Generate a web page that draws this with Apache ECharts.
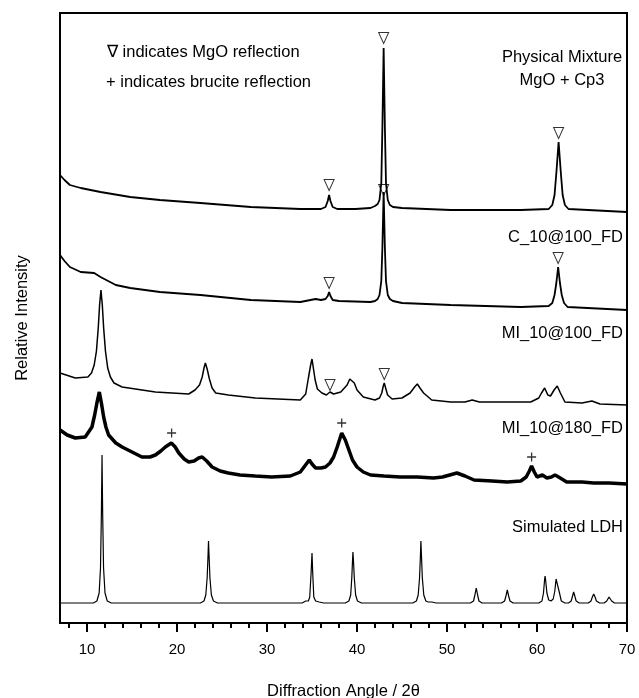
<!DOCTYPE html>
<html>
<head>
<meta charset="utf-8">
<script src="https://cdn.jsdelivr.net/npm/echarts/dist/echarts.min.js"></script>
<style>html,body{margin:0;padding:0;background:#fff;}#c{width:639px;height:698px;}</style>
</head>
<body>
<div id="c"></div>
<script>
// x tick labels
var majorTicks = [10, 20, 30, 40, 50, 60, 70];
var minorTicks = [8, 12, 14, 16, 18, 22, 24, 26, 28, 32, 34, 36, 38, 42, 44, 46, 48, 52, 54, 56, 58, 62, 64, 66, 68];

// Pattern labels
var patternNames = ['Physical Mixture\nMgO + Cp3', 'C_10@100_FD', 'MI_10@100_FD', 'MI_10@180_FD', 'Simulated LDH'];

// Physical Mixture (stacked intensity, arbitrary units)
var pmData = [[7,448],[7.5,443],[8.1,438],[9.3,435],[11.5,431],[14.8,426],[18.1,423],[22.6,420],[28.2,416],[33.7,414],[36,414],[36.5,416],[36.75,422],[36.9,428],[37.05,422],[37.3,416],[37.8,414],[39.8,414],[41.5,415],[42,417],[42.3,419],[42.5,423],[42.7,440],[42.82,495],[42.96,575],[43.1,495],[43.22,440],[43.42,423],[43.65,418],[44,416],[45,415],[50.4,413],[58.2,413],[61.3,414],[61.7,418],[61.95,428],[62.15,450],[62.4,481],[62.65,450],[62.85,428],[63.1,418],[63.5,414],[70,411]];

// C_10@100_FD
var c10Data = [[7,368],[7.5,362],[8.1,356],[9.3,351],[10.8,350],[11.5,346],[13.2,338],[14.8,335],[18.1,331],[22.6,328],[28.2,323],[33.7,321],[35.4,324],[36,323],[36.5,324],[36.75,327],[36.9,331],[37.05,327],[37.3,323],[38,322],[41.5,321],[42,322],[42.3,324],[42.5,328],[42.7,342],[42.82,375],[42.96,431],[43.1,375],[43.22,342],[43.42,328],[43.65,324],[44,322],[45,320],[50.4,318],[58.2,316],[61.3,317],[61.7,320],[61.95,328],[62.15,340],[62.35,356],[62.55,340],[62.75,328],[63,320],[63.4,316],[70,313]];

// MI_10@100_FD
var mi100Data = [[7,250],[8.7,245],[10.1,246],[10.5,250],[10.8,258],[11.05,272],[11.25,295],[11.4,318],[11.55,333],[11.7,318],[11.85,295],[12.05,272],[12.3,255],[12.6,246],[13,240],[13.9,236],[17.6,231],[21.3,229],[22,233],[22.5,238],[22.8,246],[23,255],[23.15,260],[23.35,254],[23.6,244],[23.9,235],[24.3,230],[25.7,228],[28.7,225],[33.7,223],[34.3,229],[34.6,245],[34.85,258],[35,264],[35.15,255],[35.35,243],[35.6,234],[36.1,230],[36.6,228],[37,231],[37.4,229],[38.2,231],[38.9,238],[39.2,244],[39.4,246],[39.7,240],[40,233],[40.7,226],[42,223],[42.5,225],[42.75,230],[42.92,237],[43.03,240],[43.15,236],[43.4,228],[43.9,224],[45,225],[45.9,230],[46.4,236],[46.7,239],[47,235],[47.4,230],[48.3,223],[50.4,221],[52,221],[52.8,223],[53.6,221],[59.3,221],[60.2,225],[60.5,230],[60.85,235],[61.2,228],[61.5,227],[61.9,233],[62.25,237],[62.6,230],[63.1,221],[65,220],[66.1,222],[67,219],[70,218]];

// MI_10@180_FD
var mi180Data = [[7,193],[7.8,188],[8.7,185],[9.8,186],[10.55,196],[10.85,208],[11.1,220],[11.37,231],[11.6,220],[11.85,206],[12.1,196],[12.4,188],[13.2,180],[13.9,176],[15,171],[16.1,166],[17,166],[17.6,168],[18.2,172],[18.7,176],[19.37,180],[19.8,176],[20.2,170],[20.8,164],[21.3,161],[21.9,162],[22.4,165],[22.8,166],[23.3,162],[23.9,156],[24.8,152],[25.7,150],[27,148],[28.7,147],[30.5,146],[32.6,147],[33.7,151],[34.2,157],[34.7,163],[35,159],[35.4,155],[36,155],[36.5,156],[37,160],[37.4,166],[37.8,176],[38.3,190],[38.7,183],[39.1,173],[39.5,163],[40,156],[40.7,151],[41.5,148],[43,147],[44.8,146],[46.7,146],[48.5,145],[49.5,146],[50.3,148],[51.1,150],[52,147],[53,143],[55,142],[56.7,141],[58.2,142],[58.8,146],[59.15,152],[59.4,157],[59.7,151],[60,146],[60.6,148],[61.1,145],[61.6,146],[62,148],[62.4,146],[63.3,141],[65,141],[66.3,140],[68,140],[70,139]];

// Simulated LDH
var simData = [[7,20],[10.7,20],[11.1,22],[11.35,30],[11.5,55],[11.6,110],[11.67,168],[11.74,110],[11.84,55],[12,30],[12.25,22],[12.7,20],[22.6,20],[23,22],[23.2,28],[23.35,45],[23.45,68],[23.5,82],[23.56,68],[23.66,45],[23.82,28],[24.05,22],[24.5,20],[33.9,20],[34.3,22],[34.45,24],[34.6,22],[34.75,26],[34.9,50],[35,70],[35.08,50],[35.2,26],[35.4,22],[35.6,24],[35.8,21],[36.3,20],[38.7,20],[39.1,22],[39.3,28],[39.42,45],[39.5,62],[39.55,71],[39.61,62],[39.7,45],[39.85,28],[40.05,22],[40.5,20],[46.2,20],[46.6,22],[46.8,28],[46.95,45],[47.05,68],[47.1,82],[47.16,68],[47.26,45],[47.42,28],[47.65,22],[47.9,21],[48.1,23],[48.3,21],[48.8,20],[52.6,20],[52.95,22],[53.1,28],[53.25,35],[53.4,28],[53.55,22],[53.9,20],[56.05,20],[56.4,22],[56.55,27],[56.7,33],[56.85,27],[57,22],[57.35,20],[60.2,20],[60.55,22],[60.72,30],[60.85,44],[60.9,47],[60.97,42],[61.1,30],[61.3,23],[61.55,22],[61.8,24],[61.98,32],[62.12,44],[62.22,46],[62.32,42],[62.5,30],[62.7,22],[63.1,20],[63.5,20],[63.8,22],[63.95,27],[64.07,31],[64.2,27],[64.35,22],[64.7,20],[65.7,20],[66,22],[66.15,26],[66.3,29],[66.45,26],[66.6,22],[66.95,20],[67.45,20],[67.75,22],[67.88,24],[68,26],[68.12,24],[68.3,22],[68.6,20],[70,20]];

// Reflection markers
var mgoMarks = [[36.9,438],[42.96,585],[62.4,490],[36.9,340],[42.96,433],[62.35,365],[37.0,238],[43.03,249]];
var bruciteMarks = [[19.4,190],[38.3,200],[59.4,166]];

var FONT = '"Liberation Sans", Arial, Helvetica, sans-serif';
var TF = '16.5px ' + FONT;

function lineSeries(data, w) {
  return {
    type: 'line', data: data, showSymbol: false, symbol: 'none',
    lineStyle: { color: '#000', width: w }, silent: true, z: 3
  };
}

var chart = echarts.init(document.getElementById('c'), null, { renderer: 'canvas' });
chart.setOption({
  animation: false,
  backgroundColor: '#fff',
  grid: { left: 60, right: 12, top: 13, bottom: 75, containLabel: false, outerBoundsMode: 'none', show: true, borderColor: '#000', borderWidth: 2, backgroundColor: 'transparent' },
  xAxis: [{
    type: 'value', min: 7, max: 70,
    name: 'Diffraction Angle / 2\u03B8', nameLocation: 'middle', nameGap: 60,
    nameTextStyle: { color: '#000', fontSize: 16.5, fontFamily: FONT },
    axisLine: { show: true, lineStyle: { color: '#000', width: 2 } },
    axisTick: { show: true, inside: false, length: 9, lineStyle: { color: '#000', width: 2 }, customValues: majorTicks },
    axisLabel: { show: true, color: '#000', fontSize: 15, fontFamily: FONT, margin: 19, customValues: majorTicks },
    splitLine: { show: false }
  }, {
    type: 'value', min: 7, max: 70, position: 'bottom',
    axisLine: { show: false },
    axisTick: { show: true, inside: false, length: 5, lineStyle: { color: '#000', width: 2 }, customValues: minorTicks },
    axisLabel: { show: false },
    splitLine: { show: false }
  }],
  yAxis: {
    type: 'value', min: 0, max: 610,
    name: 'Relative Intensity', nameLocation: 'middle', nameGap: 29, nameRotate: 90,
    nameTextStyle: { color: '#000', fontSize: 16.5, fontFamily: FONT },
    axisLine: { show: true, lineStyle: { color: '#000', width: 2 } },
    axisTick: { show: false }, axisLabel: { show: false }, splitLine: { show: false }
  },
  series: [
    lineSeries(pmData, 1.8),
    lineSeries(c10Data, 1.8),
    lineSeries(mi100Data, 1.5),
    lineSeries(mi180Data, 3.5),
    lineSeries(simData, 1.2),
    {
      type: 'scatter', data: mgoMarks, symbol: 'path://M0,0L10,0L5,10Z', symbolSize: [10, 11],
      itemStyle: { color: 'rgba(0,0,0,0)', borderColor: '#000', borderWidth: 1 }, silent: true, z: 4
    },
    {
      type: 'scatter', data: bruciteMarks, symbol: 'path://M5,0L5,10M0,5L10,5', symbolSize: [9, 9],
      itemStyle: { color: 'rgba(0,0,0,0)', borderColor: '#000', borderWidth: 1.3 }, silent: true, z: 4
    }
  ],
  graphic: [
    { type: 'text', x: 107, y: 52, style: { text: '\u2207 indicates MgO reflection', fill: '#000', font: TF, verticalAlign: 'middle' } },
    { type: 'text', x: 106, y: 82, style: { text: '+ indicates brucite reflection', fill: '#000', font: TF, verticalAlign: 'middle' } },
    { type: 'text', x: 562, y: 57, style: { text: 'Physical Mixture', fill: '#000', font: TF, align: 'center', verticalAlign: 'middle' } },
    { type: 'text', x: 562, y: 80, style: { text: 'MgO + Cp3', fill: '#000', font: TF, align: 'center', verticalAlign: 'middle' } },
    { type: 'text', x: 623, y: 237, style: { text: patternNames[1], fill: '#000', font: TF, align: 'right', verticalAlign: 'middle' } },
    { type: 'text', x: 623, y: 333, style: { text: patternNames[2], fill: '#000', font: TF, align: 'right', verticalAlign: 'middle' } },
    { type: 'text', x: 623, y: 428, style: { text: patternNames[3], fill: '#000', font: TF, align: 'right', verticalAlign: 'middle' } },
    { type: 'text', x: 623, y: 527, style: { text: patternNames[4], fill: '#000', font: TF, align: 'right', verticalAlign: 'middle' } }
  ]
});
</script>
</body>
</html>
